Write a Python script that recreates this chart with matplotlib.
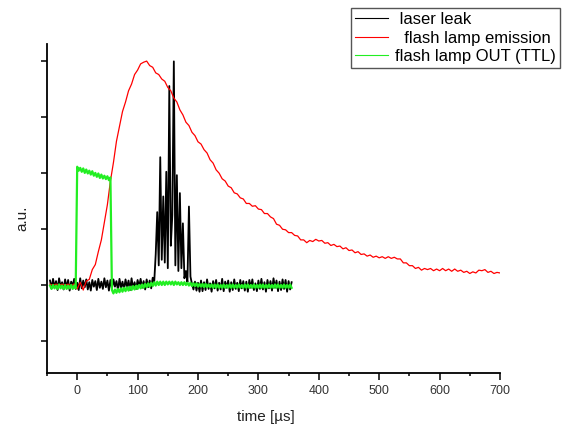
import numpy as np
import matplotlib
matplotlib.use("Agg")
import matplotlib.pyplot as plt
from matplotlib.ticker import MultipleLocator, FixedLocator

# ---------------- data ----------------
series_labels = ["laser leak", "flash lamp emission", "flash lamp OUT (TTL)"]

# laser leak and TTL traces: samples every 2.5 us, from -45 us to 355 us
scope_t0 = -45.0
scope_dt = 2.5
laser_leak = [
    0.08, -0.06, 0.11, -0.04, 0.07, -0.09, 0.12, -0.03, 0.05, -0.08,
    0.10, -0.05, 0.09, -0.10, 0.06, -0.02, 0.11, -0.07, 0.04, -0.09,
    0.12, -0.06, 0.08, -0.04, 0.10, -0.08, 0.05, -0.10, 0.09, -0.03,
    0.07, -0.09, 0.11, -0.05, 0.06, -0.07, 0.12, -0.04, 0.08, -0.10,
    0.09, -0.06, 0.10, -0.03, 0.07, -0.09, 0.11, -0.05, 0.06, -0.08,
    0.10, -0.04, 0.08, -0.09, 0.12, -0.06, 0.05, -0.07, 0.09, -0.03,
    0.11, -0.05, 0.07, -0.08, 0.10, -0.04, 0.08, -0.06, 0.13, 0.05,
    0.55, 1.30, 0.35, 2.28, 0.45, 1.58, 0.40, 2.02, 0.30, 3.55,
    0.70, 1.25, 3.99, 0.35, 1.96, 0.25, 1.64, 0.30, 1.10, 0.12,
    0.25, 0.05, 1.40, 0.15, 0.02, -0.08, 0.06, -0.10, 0.04, -0.12,
    0.08, -0.11, 0.05, -0.09, 0.10, -0.07, 0.03, -0.12, 0.07, -0.06,
    0.09, -0.10, 0.04, -0.08, 0.11, -0.11, 0.06, -0.05, 0.08, -0.12,
    0.05, -0.09, 0.10, -0.07, 0.04, -0.11, 0.09, -0.06, 0.07, -0.10,
    0.06, -0.12, 0.09, -0.05, 0.10, -0.09, 0.03, -0.11, 0.08, -0.07,
    0.11, -0.08, 0.05, -0.12, 0.09, -0.06, 0.07, -0.10, 0.12, -0.05,
    0.08, -0.11, 0.06, -0.09, 0.10, -0.07, 0.09, -0.12, 0.07, -0.08,
    0.05,
]
ttl_out = [
    -0.01, -0.07, 0.00, -0.06, -0.01, -0.07, 0.01, -0.06, -0.01, -0.07,
    0.00, -0.07, -0.01, -0.06, 0.00, -0.07, -0.01, -0.06, 2.11, 2.04,
    2.09, 2.02, 2.08, 2.00, 2.06, 1.99, 2.04, 1.97, 2.03, 1.95,
    2.00, 1.93, 1.99, 1.91, 1.97, 1.90, 1.95, 1.89, 1.94, 1.87,
    1.92, -0.09, -0.15, -0.08, -0.14, -0.07, -0.13, -0.06, -0.12, -0.05,
    -0.11, -0.04, -0.10, -0.03, -0.09, -0.02, -0.08, -0.01, -0.07, 0.00,
    -0.06, 0.01, -0.05, 0.02, -0.04, 0.03, -0.03, 0.04, -0.02, 0.05,
    -0.01, 0.06, 0.00, 0.06, 0.00, 0.06, 0.00, 0.06, 0.01, 0.06,
    0.01, 0.06, 0.00, 0.06, 0.01, 0.05, 0.00, 0.05, 0.00, 0.05,
    0.00, 0.04, -0.01, 0.04, -0.02, 0.03, -0.02, 0.03, -0.03, 0.02,
    -0.03, 0.02, -0.04, 0.02, -0.04, 0.01, -0.04, 0.01, -0.05, 0.01,
    -0.05, 0.01, -0.05, 0.00, -0.05, 0.01, -0.05, 0.00, -0.05, 0.01,
    -0.05, 0.01, -0.05, 0.00, -0.05, 0.01, -0.05, 0.00, -0.05, 0.01,
    -0.05, 0.01, -0.05, 0.00, -0.05, 0.01, -0.05, 0.00, -0.05, 0.01,
    -0.05, 0.01, -0.05, 0.00, -0.05, 0.01, -0.05, 0.00, -0.05, 0.01,
    -0.05, 0.01, -0.05, 0.00, -0.05, 0.01, -0.05, 0.00, -0.05, 0.01,
    -0.05,
]

# flash lamp emission: samples every 5 us, from -45 us to 700 us
lamp_t0 = -45.0
lamp_dt = 5.0
lamp_emission = [
    0.015, -0.005, 0.015, -0.005, 0.015, -0.005, 0.015, -0.015, 0.02, -0.07,
    0.05, -0.09, 0.07, 0.10, 0.275, 0.365, 0.595, 0.805, 1.115, 1.435,
    1.855, 2.185, 2.565, 2.835, 3.095, 3.265, 3.465, 3.585, 3.755, 3.835,
    3.945, 3.975, 3.995, 3.915, 3.885, 3.785, 3.755, 3.675, 3.635, 3.525,
    3.465, 3.335, 3.265, 3.125, 3.035, 2.905, 2.845, 2.725, 2.665, 2.555,
    2.515, 2.415, 2.355, 2.235, 2.175, 2.055, 1.995, 1.895, 1.855, 1.765,
    1.735, 1.645, 1.625, 1.555, 1.535, 1.455, 1.455, 1.405, 1.415, 1.355,
    1.345, 1.275, 1.275, 1.215, 1.185, 1.085, 1.065, 0.995, 0.985, 0.935,
    0.935, 0.885, 0.875, 0.805, 0.805, 0.755, 0.795, 0.775, 0.815, 0.785,
    0.795, 0.745, 0.755, 0.705, 0.725, 0.685, 0.695, 0.645, 0.665, 0.615,
    0.625, 0.575, 0.595, 0.545, 0.555, 0.515, 0.535, 0.495, 0.515, 0.485,
    0.505, 0.475, 0.505, 0.475, 0.495, 0.465, 0.465, 0.395, 0.395, 0.345,
    0.345, 0.295, 0.315, 0.265, 0.295, 0.275, 0.295, 0.255, 0.285, 0.255,
    0.295, 0.255, 0.285, 0.245, 0.285, 0.245, 0.265, 0.225, 0.245, 0.205,
    0.235, 0.215, 0.265, 0.255, 0.275, 0.225, 0.245, 0.205, 0.225, 0.215,
]

x_tick_values = [0, 100, 200, 300, 400, 500, 600, 700]
y_tick_values = [-1, 0, 1, 2, 3, 4]

# ---------------- figure ----------------
plt.rcParams['font.family'] = ['Liberation Sans', 'DejaVu Sans']

t_scope = scope_t0 + scope_dt * np.arange(len(laser_leak))
t_lamp = lamp_t0 + lamp_dt * np.arange(len(lamp_emission))

W, H = 571, 426
fig = plt.figure(figsize=(W / 100, H / 100), dpi=100)
ax = fig.add_axes([47 / W, 1 - 373 / H, 453 / W, 329 / H])

ax.plot(t_scope, laser_leak, color='black', lw=1.3, label=series_labels[0])
ax.plot(t_lamp, lamp_emission, color='#ff0000', lw=0.9, label=series_labels[1])
ax.plot(t_scope, ttl_out, color='#22ee22', lw=1.6, label=series_labels[2])

ax.set_xlim(-50, 700)
ax.set_ylim(-1.57, 4.30)

for s in ['top', 'right']:
    ax.spines[s].set_visible(False)
for s in ['left', 'bottom']:
    ax.spines[s].set_linewidth(1.3)

ax.xaxis.set_major_locator(FixedLocator(x_tick_values))
ax.xaxis.set_minor_locator(MultipleLocator(50))
ax.set_xticklabels([str(v) for v in x_tick_values])
ax.yaxis.set_major_locator(FixedLocator(y_tick_values))
ax.set_yticklabels([])
ax.tick_params(axis='x', which='major', direction='out', length=5, width=1.1,
               labelsize=9, pad=4, labelcolor='#333333')
ax.tick_params(axis='x', which='minor', direction='out', length=2.5, width=1.1)
ax.tick_params(axis='y', which='major', direction='out', length=4.5, width=1.1)

fig.text(266 / W, 1 - 417 / H, "time [µs]", ha='center', va='center',
         fontsize=11, color='#222222')
fig.text(22 / W, 1 - 218 / H, "a.u.", ha='center', va='center',
         rotation=90, fontsize=11, color='#222222')

handles, labels = ax.get_legend_handles_labels()
leg = ax.legend(handles, [" " + labels[0], "  " + labels[1], labels[2]],
                loc='upper right', bbox_to_anchor=(560 / W, 1 - 8 / H),
                bbox_transform=fig.transFigure, borderaxespad=0,
                fontsize=12, frameon=True, fancybox=False, framealpha=1,
                edgecolor='#555555', handlelength=2.0, handletextpad=0.4,
                labelspacing=0.2, borderpad=0.25)
leg.get_frame().set_linewidth(1.0)
for h in leg.legend_handles:
    h.set_linewidth(0.8)

fig.savefig("out.png", dpi=100)
